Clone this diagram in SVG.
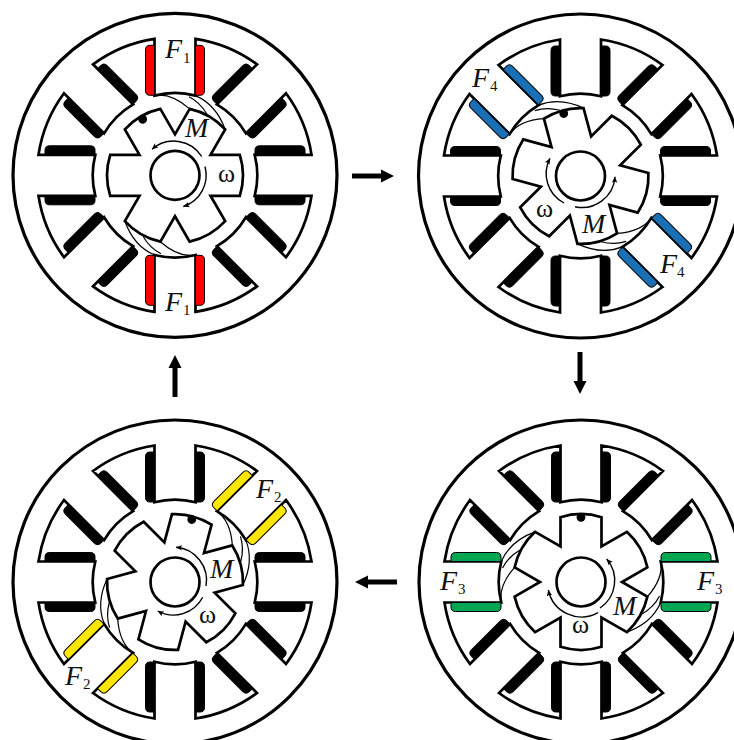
<svg xmlns="http://www.w3.org/2000/svg" xmlns:xlink="http://www.w3.org/1999/xlink" width="734" height="740" viewBox="0 0 734 740">
<style>
.line{fill:none;stroke:#000;stroke-width:2.7;stroke-linejoin:miter}
.outer{fill:none;stroke:#000;stroke-width:3.2}
.thin{fill:none;stroke:#000;stroke-width:1.2}
.om{fill:none;stroke:#000;stroke-width:1.4;marker-end:url(#tip)}
.coil{stroke:#000;stroke-width:1}
.k{fill:#000}.r{fill:#ff0000}.b{fill:#1a6fb5}.y{fill:#ffe600}.g{fill:#00a651}
.flow{stroke:#000;stroke-width:5;fill:none;marker-end:url(#flowtip)}
text{font-family:"Liberation Serif","Times New Roman",serif;fill:#111}
.it{font-style:italic;font-size:28px}
.sub{font-size:15px}
.w{font-size:26px}
</style>
<defs>
<marker id="tip" markerUnits="userSpaceOnUse" markerWidth="8" markerHeight="6" refX="6" refY="3" orient="auto"><path d="M0,0.3 L6,3 L0,5.7 L1.2,3 Z" fill="#000"/></marker>
<marker id="flowtip" markerUnits="userSpaceOnUse" markerWidth="14" markerHeight="14" refX="1" refY="7" orient="auto"><path d="M0,0.5 L13,7 L0,13.5 Z" fill="#000"/></marker>
<g id="stator">
<circle class="outer" r="162"/>
<path class="line" d="M-20.5,-136.5 L-20.5,-79.7 A82.3,82.3 0 0 1 20.5,-79.7 L20.5,-136.5 A138,138 0 0 1 82,-111 L41.9,-70.9 A82.3,82.3 0 0 1 70.9,-41.9 L111,-82 A138,138 0 0 1 136.5,-20.5 L79.7,-20.5 A82.3,82.3 0 0 1 79.7,20.5 L136.5,20.5 A138,138 0 0 1 111,82 L70.9,41.9 A82.3,82.3 0 0 1 41.9,70.9 L82,111 A138,138 0 0 1 20.5,136.5 L20.5,79.7 A82.3,82.3 0 0 1 -20.5,79.7 L-20.5,136.5 A138,138 0 0 1 -82,111 L-41.9,70.9 A82.3,82.3 0 0 1 -70.9,41.9 L-111,82 A138,138 0 0 1 -136.5,20.5 L-79.7,20.5 A82.3,82.3 0 0 1 -79.7,-20.5 L-136.5,-20.5 A138,138 0 0 1 -111,-82 L-70.9,-41.9 A82.3,82.3 0 0 1 -41.9,-70.9 L-82,-111 A138,138 0 0 1 -20.5,-136.5 Z"/>
</g>
<g id="coils">
<path class="coil" d="M20.5,-130 H25 Q29.5,-130 29.5,-125.5 V-84.5 Q29.5,-80 25,-80 H20.5 Z"/>
<path class="coil" d="M-20.5,-130 H-25 Q-29.5,-130 -29.5,-125.5 V-84.5 Q-29.5,-80 -25,-80 H-20.5 Z"/>
</g>
<g id="rotor">
<path class="line" d="M-20.5,-64.8 A68,68 0 0 1 20.5,-64.8 L20.5,-35.5 L45.87,-50.15 A68,68 0 0 1 66.37,-14.65 L41,0 L66.37,14.65 A68,68 0 0 1 45.87,50.15 L20.5,35.5 L20.5,64.8 A68,68 0 0 1 -20.5,64.8 L-20.5,35.5 L-45.87,50.15 A68,68 0 0 1 -66.37,14.65 L-41,0 L-66.37,-14.65 A68,68 0 0 1 -45.87,-50.15 L-20.5,-35.5 Z"/>
<circle cx="0" cy="-64.7" r="4.4" fill="#000"/>
</g>
<circle id="shaft" class="line" r="24.5"/>
<g id="flux">
<path class="thin" d="M20.5,-79.7 Q41.3,-70.6 50.1,-45.9"/>
<path class="thin" d="M14,-78.5 Q25,-73 32,-61"/>
<path class="thin" d="M-20.5,-79.7 Q-3.7,-82.6 14.7,-66.4"/>
</g>
</defs>
<rect width="734" height="740" fill="#fff"/>

<g id="motor-f1" transform="translate(175,175.3)">
<use href="#stator"/>
<use href="#coils" class="r"/>
<use href="#coils" class="k" transform="rotate(45)"/>
<use href="#coils" class="k" transform="rotate(90)"/>
<use href="#coils" class="k" transform="rotate(135)"/>
<use href="#coils" class="r" transform="rotate(180)"/>
<use href="#coils" class="k" transform="rotate(225)"/>
<use href="#coils" class="k" transform="rotate(270)"/>
<use href="#coils" class="k" transform="rotate(315)"/>
<use href="#rotor" transform="rotate(-30)"/>
<use href="#shaft"/>
<use href="#flux"/>
<use href="#flux" transform="rotate(180)"/>
<path class="om" d="M26.7,-18.8 A33,33 0 0 0 -23,-26"/>
<path class="om" d="M30,-8.8 A33,33 0 0 1 8.3,31.2"/>
</g>
<g id="motor-f4" transform="translate(580.5,176)">
<use href="#stator"/>
<use href="#coils" class="k"/>
<use href="#coils" class="k" transform="rotate(45)"/>
<use href="#coils" class="k" transform="rotate(90)"/>
<use href="#coils" class="b" transform="rotate(135)"/>
<use href="#coils" class="k" transform="rotate(180)"/>
<use href="#coils" class="k" transform="rotate(225)"/>
<use href="#coils" class="k" transform="rotate(270)"/>
<use href="#coils" class="b" transform="rotate(315)"/>
<use href="#rotor" transform="rotate(-15)"/>
<use href="#shaft"/>
<use href="#flux" transform="rotate(-45)"/>
<use href="#flux" transform="rotate(135)"/>
<path class="om" d="M-16.5,27 A33,33 0 0 1 -30.5,-17.7"/>
<path class="om" d="M-5.5,30.7 A33,33 0 0 0 34.5,0.7"/>
</g>
<g id="motor-f3" transform="translate(581,582)">
<use href="#stator"/>
<use href="#coils" class="k"/>
<use href="#coils" class="k" transform="rotate(45)"/>
<use href="#coils" class="g" transform="rotate(90)"/>
<use href="#coils" class="k" transform="rotate(135)"/>
<use href="#coils" class="k" transform="rotate(180)"/>
<use href="#coils" class="k" transform="rotate(225)"/>
<use href="#coils" class="g" transform="rotate(270)"/>
<use href="#coils" class="k" transform="rotate(315)"/>
<use href="#rotor"/>
<use href="#shaft"/>
<use href="#flux" transform="rotate(90)"/>
<use href="#flux" transform="rotate(270)"/>
<path class="om" d="M19,26 A33,33 0 0 0 25.7,-23"/>
<path class="om" d="M17,30.7 A34,34 0 0 1 -32.7,8"/>
</g>
<g id="motor-f2" transform="translate(175,582)">
<use href="#stator"/>
<use href="#coils" class="k"/>
<use href="#coils" class="y" transform="rotate(45)"/>
<use href="#coils" class="k" transform="rotate(90)"/>
<use href="#coils" class="k" transform="rotate(135)"/>
<use href="#coils" class="k" transform="rotate(180)"/>
<use href="#coils" class="y" transform="rotate(225)"/>
<use href="#coils" class="k" transform="rotate(270)"/>
<use href="#coils" class="k" transform="rotate(315)"/>
<use href="#rotor" transform="rotate(15)"/>
<use href="#shaft"/>
<use href="#flux" transform="rotate(45)"/>
<use href="#flux" transform="rotate(225)"/>
<path class="om" d="M31,4 A33,33 0 0 0 1,-34.7"/>
<path class="om" d="M27.7,15.3 A33,33 0 0 1 -17.3,29"/>
</g>

<g id="labels">
<text class="it" x="165" y="58">F</text><text class="sub" x="183" y="62.5">1</text>
<text class="it" x="165" y="311">F</text><text class="sub" x="183" y="315">1</text>
<text class="it" x="185" y="137">M</text><text class="w" x="218" y="182">ω</text>
<text class="it" x="472" y="87">F</text><text class="sub" x="490" y="91">4</text>
<text class="it" x="660" y="273">F</text><text class="sub" x="677" y="277">4</text>
<text class="it" x="582" y="233">M</text><text class="w" x="536" y="217">ω</text>
<text class="it" x="440" y="590">F</text><text class="sub" x="458" y="594">3</text>
<text class="it" x="697" y="590">F</text><text class="sub" x="715" y="594">3</text>
<text class="it" x="613" y="615">M</text><text class="w" x="572" y="633">ω</text>
<text class="it" x="256" y="498">F</text><text class="sub" x="274" y="502">2</text>
<text class="it" x="65" y="685">F</text><text class="sub" x="83" y="689">2</text>
<text class="it" x="210" y="578">M</text><text class="w" x="199" y="623">ω</text>
</g>

<g id="connectors">
<path class="flow" d="M352,176 H382"/>
<path class="flow" d="M580,352 V382"/>
<path class="flow" d="M397,582 H367"/>
<path class="flow" d="M175,397 V367"/>
</g>
</svg>
